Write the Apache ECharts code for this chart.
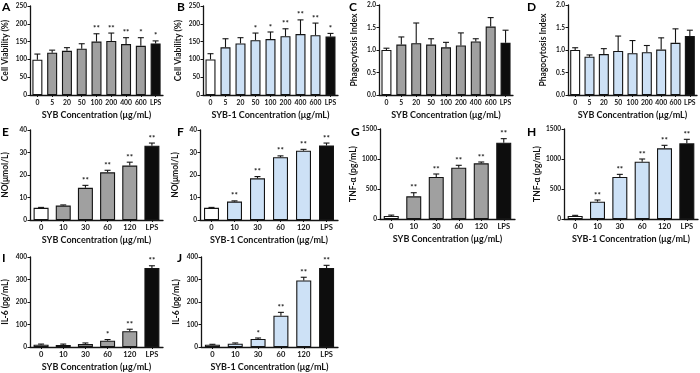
<!DOCTYPE html>
<html>
<head>
<meta charset="utf-8">
<script src="https://cdn.jsdelivr.net/npm/echarts@6/dist/echarts.min.js"></script>
<style>
html, body { margin: 0; padding: 0; background: #fff; }
#chart { width: 700px; height: 373px; }
</style>
</head>
<body>
<div id="chart"></div>
<script>
// categories
const doseCats = ['0', '5', '20', '50', '100', '200', '400', '600', 'LPS'];
const cytoCats = ['0', '10', '30', '60', '120', 'LPS'];

// y tick labels
const viabTicks = [0, 50, 100, 150, 200, 250];
const phagoTicks = [0, 0.5, 1.0, 1.5, 2.0];
const noTicks = [0, 10, 20, 30, 40];
const tnfTicks = [0, 500, 1000, 1500];
const il6Ticks = [0, 100, 200, 300, 400];

// A: cell viability, SYB
const viabSyb = [99, 119, 124, 130, 150, 152, 143, 138, 145];
const viabSybSd = [16, 7, 9, 14, 22, 22, 18, 23, 7];
const viabSybSig = ['', '', '', '', '**', '**', '**', '*', '*'];
// B: cell viability, SYB-1
const viabSyb1 = [100, 134, 145, 154, 157, 165, 171, 168, 164];
const viabSyb1Sd = [16, 24, 16, 20, 20, 21, 40, 34, 9];
const viabSyb1Sig = ['', '', '', '*', '*', '**', '**', '**', '*'];
// C: phagocytosis, SYB
const phagoSyb = [1.0, 1.12, 1.15, 1.12, 1.06, 1.10, 1.19, 1.52, 1.16];
const phagoSybSd = [0.04, 0.17, 0.45, 0.13, 0.11, 0.28, 0.06, 0.20, 0.28];
// D: phagocytosis, SYB-1
const phagoSyb1 = [1.0, 0.85, 0.91, 0.98, 0.93, 0.95, 1.01, 1.16, 1.31];
const phagoSyb1Sd = [0.05, 0.04, 0.12, 0.33, 0.28, 0.15, 0.26, 0.31, 0.13];
// E: NO, SYB
const noSyb = [5.4, 6.4, 14.3, 21.2, 24.2, 33.0];
const noSybSd = [0.2, 0.3, 1.1, 0.9, 1.5, 1.2];
const noSybSig = ['', '', '**', '**', '**', '**'];
// F: NO, SYB-1
const noSyb1 = [5.4, 8.2, 18.5, 27.9, 30.8, 33.1];
const noSyb1Sd = [0.2, 0.3, 0.8, 0.6, 0.6, 1.1];
const noSyb1Sig = ['', '**', '**', '**', '**', '**'];
// G: TNF-α, SYB
const tnfSyb = [50, 378, 700, 855, 928, 1272];
const tnfSybSd = [15, 60, 50, 40, 22, 67];
const tnfSybSig = ['', '**', '**', '**', '**', '**'];
// H: TNF-α, SYB-1
const tnfSyb1 = [50, 289, 700, 955, 1178, 1261];
const tnfSyb1Sd = [11, 28, 44, 45, 50, 67];
const tnfSyb1Sig = ['', '**', '**', '**', '**', '**'];
// I: IL-6, SYB
const il6Syb = [10, 9, 13, 28, 70, 351];
const il6SybSd = [3, 4, 5, 5, 9, 10];
const il6SybSig = ['', '', '', '*', '**', '**'];
// J: IL-6, SYB-1
const il6Syb1 = [10, 15, 36, 139, 296, 351];
const il6Syb1Sd = [2, 3, 4, 15, 14, 12];
const il6Syb1Sig = ['', '', '*', '**', '**', '**'];

const FONT = 'Lato';
const GRAY = '#a0a0a0';
const BLUE = '#cde1f6';
const INK = '#141414';
const xSyb = 'SYB Concentration (μg/mL)';
const xSyb1 = 'SYB-1 Concentration (μg/mL)';

const panels = [
  { letter: 'A', box: [29, 6, 134, 89], lp: [2, 1], cats: doseCats, mean: viabSyb, sd: viabSybSd, sig: viabSybSig, fill: GRAY, ticks: viabTicks, yName: 'Cell Viability (%)', xName: xSyb, bw: 10 },
  { letter: 'B', box: [203, 6, 135, 89], lp: [177, 1], cats: doseCats, mean: viabSyb1, sd: viabSyb1Sd, sig: viabSyb1Sig, fill: BLUE, ticks: viabTicks, yName: 'Cell Viability (%)', xName: xSyb1, bw: 10 },
  { letter: 'C', box: [379, 5, 134, 90], lp: [349, 1], cats: doseCats, mean: phagoSyb, sd: phagoSybSd, sig: [], fill: GRAY, ticks: phagoTicks, yName: 'Phagocytosis Index', xName: xSyb, bw: 10, dec: 1 },
  { letter: 'D', box: [568, 5, 129, 90], lp: [527, 1], cats: doseCats, mean: phagoSyb1, sd: phagoSyb1Sd, sig: [], fill: BLUE, ticks: phagoTicks, yName: 'Phagocytosis Index', xName: xSyb, bw: 10, dec: 1 },
  { letter: 'E', box: [29, 130, 134, 90], lp: [2, 126], cats: cytoCats, mean: noSyb, sd: noSybSd, sig: noSybSig, fill: GRAY, ticks: noTicks, yName: 'NO(μmol/L)', xName: xSyb, bw: 15 },
  { letter: 'F', box: [200, 130, 138, 90], lp: [177, 126], cats: cytoCats, mean: noSyb1, sd: noSyb1Sd, sig: noSyb1Sig, fill: BLUE, ticks: noTicks, yName: 'NO(μmol/L)', xName: xSyb1, bw: 15 },
  { letter: 'G', box: [380, 129, 135, 90], lp: [351, 126], cats: cytoCats, mean: tnfSyb, sd: tnfSybSd, sig: tnfSybSig, fill: GRAY, ticks: tnfTicks, yName: 'TNF-α (pg/mL)', xName: xSyb, bw: 15 },
  { letter: 'H', box: [564, 129, 134, 90], lp: [527, 126], cats: cytoCats, mean: tnfSyb1, sd: tnfSyb1Sd, sig: tnfSyb1Sig, fill: BLUE, ticks: tnfTicks, yName: 'TNF-α (pg/mL)', xName: xSyb1, bw: 15 },
  { letter: 'I', box: [29, 257, 134, 90], lp: [2, 252], cats: cytoCats, mean: il6Syb, sd: il6SybSd, sig: il6SybSig, fill: GRAY, ticks: il6Ticks, yName: 'IL-6 (pg/mL)', xName: xSyb, bw: 15 },
  { letter: 'J', box: [201, 257, 137, 90], lp: [177, 252], cats: cytoCats, mean: il6Syb1, sd: il6Syb1Sd, sig: il6Syb1Sig, fill: BLUE, ticks: il6Ticks, yName: 'IL-6 (pg/mL)', xName: xSyb1, bw: 15 }
];

function errRender(sig) {
  return function (params, api) {
    const i = api.value(0);
    const m = api.value(1);
    const top = api.value(2);
    const p0 = api.coord([i, m]);
    const p1 = api.coord([i, top]);
    const w = 3;
    const kids = [
      { type: 'line', shape: { x1: p0[0], y1: p0[1], x2: p1[0], y2: p1[1] }, style: { stroke: INK, lineWidth: 1.1 } },
      { type: 'line', shape: { x1: p1[0] - w, y1: p1[1], x2: p1[0] + w, y2: p1[1] }, style: { stroke: INK, lineWidth: 1.1 } }
    ];
    const s = sig[params.dataIndex];
    if (s) {
      kids.push({
        type: 'text', x: p1[0], y: p1[1] - 1,
        style: { text: s, align: 'center', verticalAlign: 'bottom', font: 'bold 8px ' + FONT, fill: INK }
      });
    }
    return { type: 'group', children: kids };
  };
}

const grid = [], xAxis = [], yAxis = [], series = [], title = [];

panels.forEach(function (p, k) {
  const t = p.ticks;
  grid.push({ left: p.box[0], top: p.box[1], width: p.box[2], height: p.box[3], containLabel: false });
  xAxis.push({
    type: 'category', gridIndex: k, data: p.cats,
    name: p.xName, nameLocation: 'middle', nameGap: 16,
    nameTextStyle: { fontFamily: FONT, fontWeight: 'bold', fontSize: 9, color: INK },
    axisLine: { lineStyle: { color: INK, width: 1.3 } },
    axisTick: { show: true, alignWithLabel: true, length: 2, lineStyle: { color: INK } },
    axisLabel: { fontFamily: FONT, fontWeight: 'bold', fontSize: p.cats.length > 6 ? 6.8 : 7.5, color: INK, margin: 4, interval: 0 }
  });
  yAxis.push({
    type: 'value', gridIndex: k, min: t[0], max: t[t.length - 1], interval: t[1] - t[0],
    name: p.yName, nameLocation: 'middle', nameGap: 20,
    nameTextStyle: { fontFamily: FONT, fontWeight: 'bold', fontSize: 8.5, color: INK },
    axisLine: { show: true, lineStyle: { color: INK, width: 1.3 } },
    axisTick: { show: true, length: 2.5, lineStyle: { color: INK } },
    splitLine: { show: false },
    axisLabel: {
      fontFamily: FONT, fontWeight: 'bold', fontSize: 6.5, color: INK, margin: 3,
      formatter: function (v) { return p.dec ? v.toFixed(p.dec) : String(v); }
    }
  });
  const last = p.mean.length - 1;
  series.push({
    type: 'bar', xAxisIndex: k, yAxisIndex: k, barWidth: p.bw, z: 2,
    data: p.mean.map(function (v, i) {
      return {
        value: v,
        itemStyle: { color: i === 0 ? '#ffffff' : (i === last ? '#0d0d0d' : p.fill), borderColor: INK, borderWidth: 1.1 }
      };
    }),
    animation: false
  });
  series.push({
    type: 'custom', xAxisIndex: k, yAxisIndex: k, z: 3,
    renderItem: errRender(p.sig),
    data: p.mean.map(function (v, i) { return [i, v, v + p.sd[i]]; }),
    animation: false
  });
  title.push({
    text: p.letter, left: p.lp[0], top: p.lp[1], padding: 0,
    textStyle: { fontFamily: FONT, fontWeight: 'bold', fontSize: 12, color: '#000' }
  });
});

const chart = echarts.init(document.getElementById('chart'), null, { renderer: 'canvas' });
chart.setOption({ animation: false, title: title, grid: grid, xAxis: xAxis, yAxis: yAxis, series: series });
</script>
</body>
</html>
